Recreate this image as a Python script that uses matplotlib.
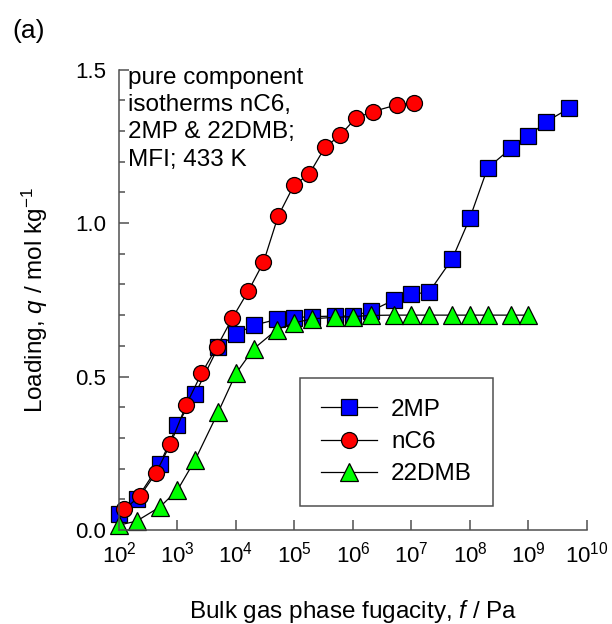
import numpy as np
import matplotlib
matplotlib.use('Agg')
import matplotlib.pyplot as plt
from matplotlib.ticker import LogLocator, MultipleLocator

plt.rcParams['font.family'] = ['Liberation Sans', 'DejaVu Sans']
plt.rcParams['mathtext.fontset'] = 'custom'
plt.rcParams['mathtext.rm'] = 'Liberation Sans'
plt.rcParams['mathtext.it'] = 'Liberation Sans:italic'
plt.rcParams['mathtext.default'] = 'regular'

# data
f_2mp = [1e2, 2e2, 5e2, 1e3, 2e3, 5e3, 1e4, 2e4, 5e4, 1e5, 2e5, 5e5,
         1e6, 2e6, 5e6, 1e7, 2e7, 5e7, 1e8, 2e8, 5e8, 1e9, 2e9, 5e9]
q_2mp = [0.051, 0.100, 0.215, 0.343, 0.443, 0.597, 0.638, 0.667, 0.686, 0.692, 0.695, 0.697,
         0.697, 0.713, 0.749, 0.768, 0.775, 0.884, 1.017, 1.179, 1.243, 1.283, 1.330, 1.374]

logf_nc6 = [2.09, 2.36, 2.63, 2.88, 3.15, 3.41, 3.67, 3.94, 4.21, 4.47,
            4.72, 4.99, 5.25, 5.52, 5.78, 6.05, 6.34, 6.75, 7.04]
q_nc6 = [0.067, 0.111, 0.185, 0.280, 0.408, 0.510, 0.595, 0.691, 0.778, 0.872,
         1.022, 1.123, 1.159, 1.246, 1.286, 1.342, 1.363, 1.385, 1.392]

f_22dmb = [1e2, 2e2, 5e2, 1e3, 2e3, 5e3, 1e4, 2e4, 5e4, 1e5, 2e5,
           5e5, 1e6, 2e6, 5e6, 1e7, 2e7, 5e7, 1e8, 2e8, 5e8, 1e9]
q_22dmb = [0.016, 0.029, 0.075, 0.130, 0.228, 0.385, 0.510, 0.590, 0.653, 0.675, 0.688,
           0.693, 0.695, 0.699, 0.700, 0.700, 0.700, 0.700, 0.700, 0.700, 0.700, 0.700]

fig = plt.figure(figsize=(6.12, 6.24), dpi=100)
ax = fig.add_axes([0.1944, 0.1506, 0.7647, 0.738])

ax.plot(f_2mp, q_2mp, '-s', color='black', lw=0.9, ms=11, mfc='#0000ff',
        mec='black', mew=0.9, label='2MP', clip_on=False)
ax.plot(10 ** np.array(logf_nc6), q_nc6, '-o', color='black', lw=0.9, ms=11.5,
        mfc='#ff0000', mec='black', mew=0.9, label='nC6', clip_on=False)
ax.plot(f_22dmb, q_22dmb, '-^', color='black', lw=0.9, ms=12.5, mfc='#00ff00',
        mec='black', mew=0.9, label='22DMB', clip_on=False)

ax.set_xscale('log')
ax.set_xlim(1e2, 1e10)
ax.set_ylim(0, 1.5)
ax.xaxis.set_major_locator(LogLocator(base=10, numticks=20))
ax.xaxis.set_minor_locator(plt.NullLocator())
ax.yaxis.set_major_locator(MultipleLocator(0.5))
ax.yaxis.set_minor_locator(MultipleLocator(0.1))
ax.yaxis.set_major_formatter(plt.FormatStrFormatter('%.1f'))

for side in ['top', 'right']:
    ax.spines[side].set_visible(False)
for side in ['left', 'bottom']:
    ax.spines[side].set_color('#505050')
    ax.spines[side].set_linewidth(1.1)

ax.tick_params(which='major', direction='in', length=7, width=1.1, color='#505050',
               labelsize=16, pad=9)
ax.tick_params(which='minor', direction='in', length=4.5, width=1.1, color='#505050')
ax.tick_params(axis='x', pad=8)

ax.set_xlabel('Bulk gas phase fugacity, $\\mathit{f}$ / Pa', fontsize=17.5, labelpad=22)
ax.set_ylabel('Loading, $\\mathit{q}$ / mol kg$^{-1}$', fontsize=17.5, labelpad=18)

ax.text(0.019, 1.005, 'pure component\nisotherms nC6,\n2MP & 22DMB;\nMFI; 433 K',
        transform=ax.transAxes, fontsize=17.5, va='top', ha='left', linespacing=1.3)
fig.text(0.02, 0.97, '(a)', fontsize=19, va='top', ha='left')

leg = ax.legend(loc='lower left', bbox_to_anchor=(0.387, 0.052), borderaxespad=0,
                fontsize=17.5, handlelength=2.3, handletextpad=0.6, labelspacing=0.42,
                borderpad=0.85, fancybox=False, framealpha=1)
leg.get_frame().set_edgecolor('#505050')
leg.get_frame().set_linewidth(1.1)

plt.savefig('out.png', dpi=100)
